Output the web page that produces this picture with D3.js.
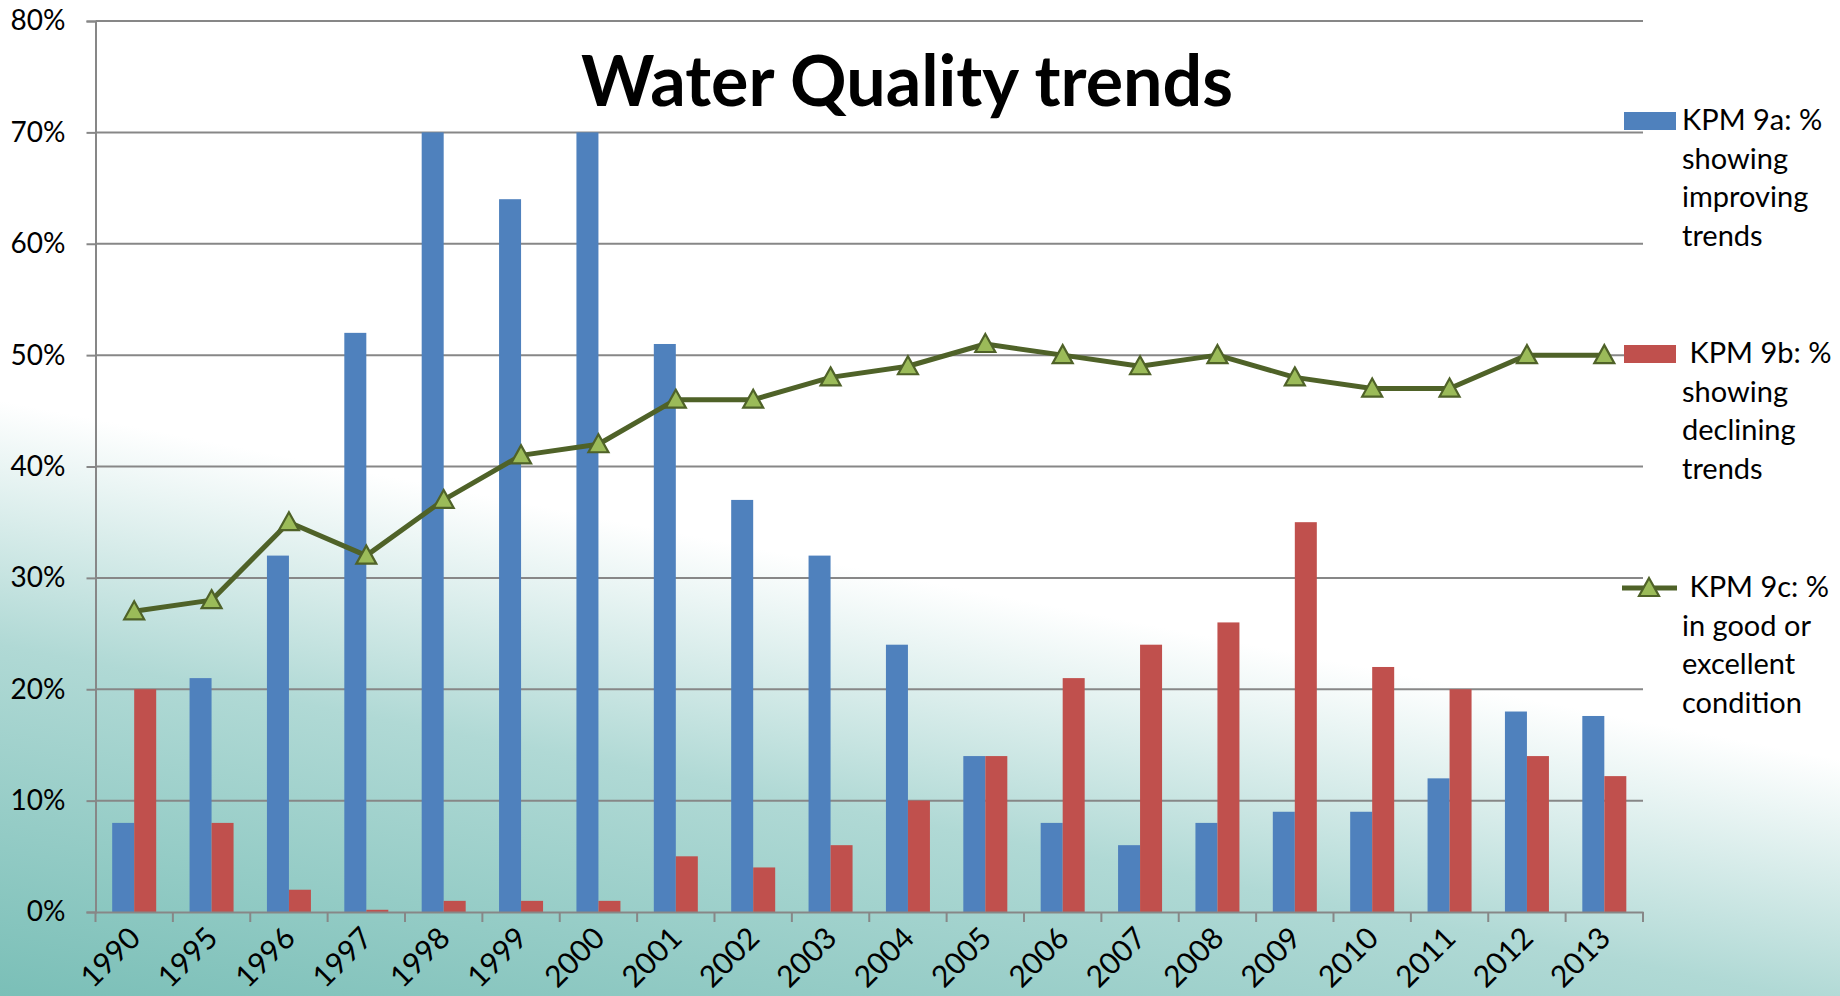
<!DOCTYPE html>
<html>
<head>
<meta charset="utf-8">
<script src="https://cdn.jsdelivr.net/npm/d3@7"></script>
<style>
  html, body { margin: 0; padding: 0; background: #ffffff; }
  svg { display: block; }
</style>
</head>
<body>
<svg id="chart" width="1840" height="996"></svg>
<script>
const categories = ["1990","1995","1996","1997","1998","1999","2000","2001","2002","2003","2004","2005","2006","2007","2008","2009","2010","2011","2012","2013"];
const kpm9a = [8, 21, 32, 52, 70, 64, 70, 51, 37, 32, 24, 14, 8, 6, 8, 9, 9, 12, 18, 17.6];
const kpm9b = [20, 8, 2, 0.2, 1, 1, 1, 5, 4, 6, 10, 14, 21, 24, 26, 35, 22, 20, 14, 12.2];
const kpm9c = [27, 28, 35, 32, 37, 41, 42, 46, 46, 48, 49, 51, 50, 49, 50, 48, 47, 47, 50, 50];
const yTicks = [0, 10, 20, 30, 40, 50, 60, 70, 80];
const seriesNames = ["KPM 9a", "KPM 9b"];
const legendLines = [
  ["KPM 9a: %", "showing", "improving", "trends"],
  [" KPM 9b: %", "showing", "declining", "trends"],
  [" KPM 9c: %", "in good or", "excellent", "condition"]
];
const titleText = "Water Quality trends";

const W = 1840, H = 996;
const plot = { left: 95.5, right: 1643, top: 21, bottom: 912 };
const colors = { a: "#4f81bd", b: "#c0504d", line: "#4f6228", marker: "#9bbb59", grid: "#878787" };

const svg = d3.select("#chart");
const defs = svg.append("defs");

// Background gradient (white top-right to teal bottom-left)
const grad = defs.append("linearGradient")
  .attr("id", "bg").attr("gradientUnits", "userSpaceOnUse")
  .attr("x1", 920).attr("y1", 580).attr("x2", 805).attr("y2", 1169);
grad.append("stop").attr("offset", 0).attr("stop-color", "#ffffff");
grad.append("stop").attr("offset", 0.4).attr("stop-color", "rgb(176,217,213)");
grad.append("stop").attr("offset", 1).attr("stop-color", "rgb(120,190,182)");
svg.append("rect").attr("width", W).attr("height", H).attr("fill", "url(#bg)");

const x = d3.scaleBand().domain(categories).range([plot.left, plot.right]).paddingInner(0).paddingOuter(0);
const bw = x.bandwidth();
const pairW = 44;
const xs = d3.scaleBand().domain(seriesNames).range([(bw - pairW) / 2, (bw + pairW) / 2]);
const y = d3.scaleLinear().domain([0, 80]).range([plot.bottom, plot.top]);

// Gridlines
svg.append("g").selectAll("line").data(yTicks.filter(d => d > 0)).join("line")
  .attr("x1", plot.left).attr("x2", plot.right)
  .attr("y1", d => y(d)).attr("y2", d => y(d))
  .attr("stroke", colors.grid).attr("stroke-width", 2);

// Bars
const barData = categories.map((c, i) => [
  { cat: c, s: "KPM 9a", v: kpm9a[i], col: colors.a },
  { cat: c, s: "KPM 9b", v: kpm9b[i], col: colors.b }
]).flat();
svg.append("g").selectAll("rect").data(barData).join("rect")
  .attr("x", d => x(d.cat) + xs(d.s))
  .attr("width", xs.bandwidth())
  .attr("y", d => y(d.v))
  .attr("height", d => y(0) - y(d.v))
  .attr("fill", d => d.col);

// Y axis
const yAxis = svg.append("g").attr("transform", `translate(${plot.left},0)`)
  .call(d3.axisLeft(y).tickValues(yTicks).tickFormat(d => d + "%").tickSize(9).tickPadding(21));
yAxis.select(".domain").attr("stroke", colors.grid).attr("stroke-width", 2);
yAxis.selectAll(".tick line").attr("stroke", colors.grid).attr("stroke-width", 2);
yAxis.selectAll(".tick text").attr("font-family", "Lato, sans-serif").attr("font-size", 28).attr("fill", "#000");

// X axis
const xAxis = svg.append("g").attr("transform", `translate(0,${plot.bottom})`)
  .call(d3.axisBottom(x).tickSize(0).tickPadding(0));
xAxis.select(".domain").attr("stroke", colors.grid).attr("stroke-width", 2);
xAxis.selectAll(".tick text")
  .attr("font-family", "Lato, sans-serif").attr("font-size", 30).attr("fill", "#000")
  .attr("text-anchor", "end").attr("dy", 0).attr("y", 0)
  .attr("transform", "translate(8,28) rotate(-45)");
const boundaries = categories.map(c => x(c)).concat([plot.right]);
svg.append("g").selectAll("line").data(boundaries).join("line")
  .attr("x1", d => d).attr("x2", d => d)
  .attr("y1", plot.bottom).attr("y2", plot.bottom + 10)
  .attr("stroke", colors.grid).attr("stroke-width", 2);

// Line series
const tri = "M0,-10 L10,8 L-10,8 Z";
const lineGen = d3.line().x((d, i) => x(categories[i]) + bw / 2).y(d => y(d));
svg.append("path").datum(kpm9c).attr("d", lineGen)
  .attr("fill", "none").attr("stroke", colors.line).attr("stroke-width", 5).attr("stroke-linejoin", "round");
svg.append("g").selectAll("path").data(kpm9c).join("path")
  .attr("d", tri)
  .attr("transform", (d, i) => `translate(${x(categories[i]) + bw / 2},${y(d)})`)
  .attr("fill", colors.marker).attr("stroke", colors.line).attr("stroke-width", 2.2).attr("stroke-linejoin", "miter");

// Title
svg.append("text").attr("x", 907).attr("y", 106)
  .attr("text-anchor", "middle")
  .attr("font-family", "Lato, sans-serif").attr("font-weight", 700).attr("font-size", 70)
  .attr("fill", "#000").text(titleText);

// Legend
const leg = svg.append("g");
const legKeyY = [121, 354, 588];
const legBase = [130, 363, 597];
const lineStep = 38.6;
leg.append("rect").attr("x", 1624).attr("y", legKeyY[0] - 9).attr("width", 52).attr("height", 18).attr("fill", colors.a);
leg.append("rect").attr("x", 1624).attr("y", legKeyY[1] - 9).attr("width", 52).attr("height", 18).attr("fill", colors.b);
leg.append("line").attr("x1", 1622).attr("x2", 1677).attr("y1", legKeyY[2]).attr("y2", legKeyY[2])
  .attr("stroke", colors.line).attr("stroke-width", 5);
leg.append("path").attr("d", tri).attr("transform", `translate(1649,${legKeyY[2]})`)
  .attr("fill", colors.marker).attr("stroke", colors.line).attr("stroke-width", 2.2);
legendLines.forEach((lines, k) => {
  const t = leg.append("text").attr("font-family", "Lato, sans-serif").attr("font-size", 29).attr("fill", "#000")
    .attr("xml:space", "preserve").style("white-space", "pre");
  lines.forEach((s, j) => {
    t.append("tspan").attr("x", 1682).attr("y", legBase[k] + j * lineStep).text(s);
  });
});
</script>
</body>
</html>
